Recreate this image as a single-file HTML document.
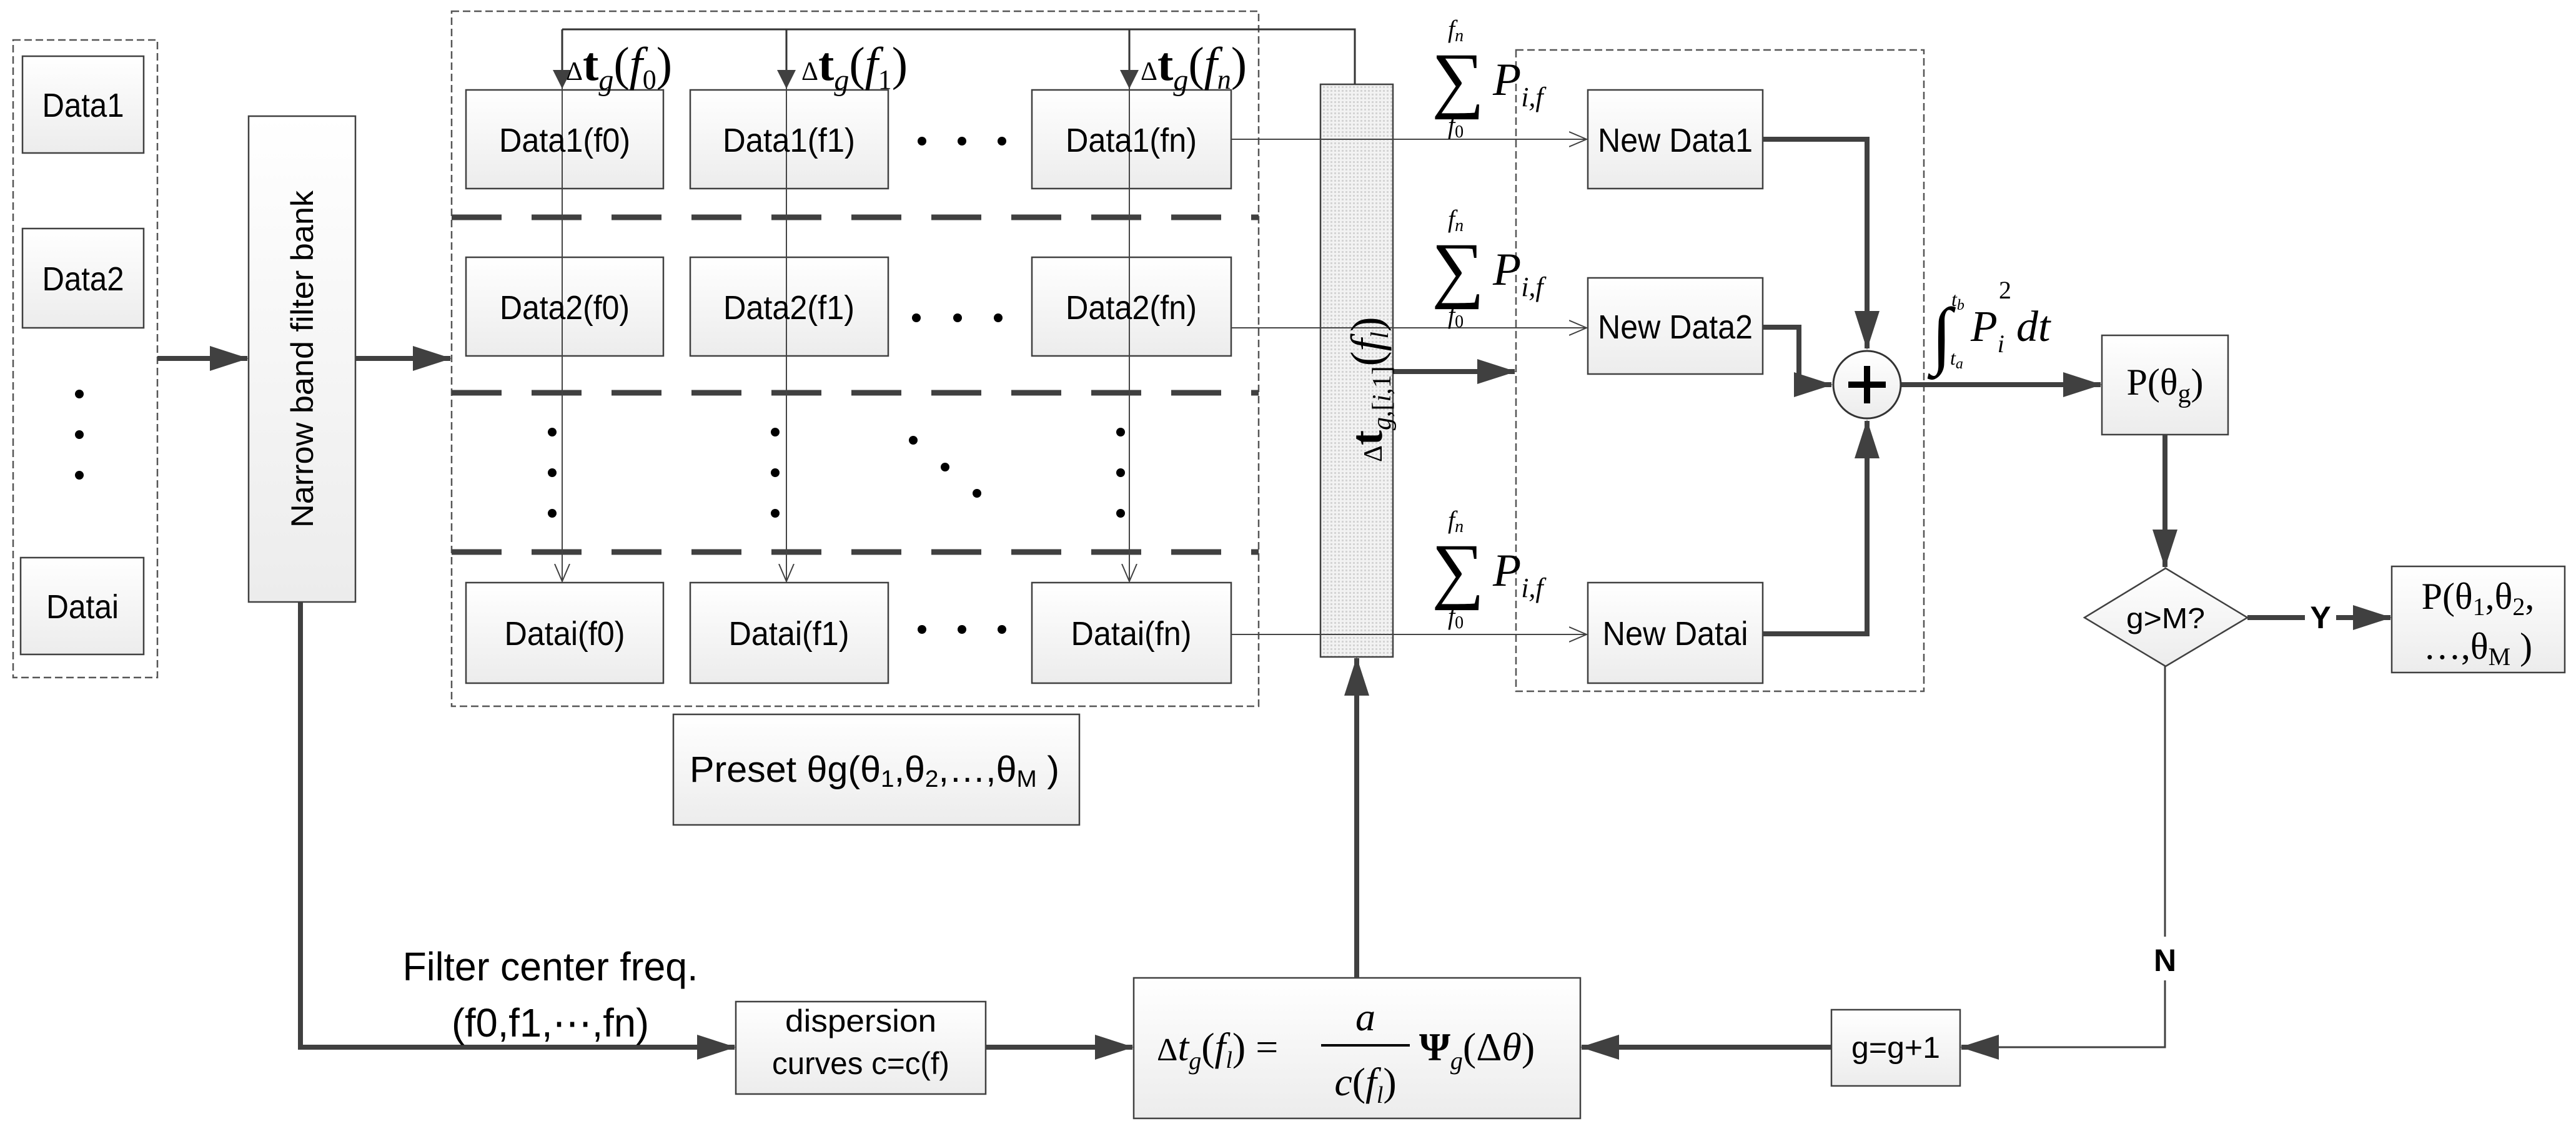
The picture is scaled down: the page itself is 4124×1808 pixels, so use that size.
<!DOCTYPE html>
<html><head><meta charset="utf-8"><style>
html,body{margin:0;padding:0;background:#fff}
svg{display:block}
.b{font-family:"Liberation Sans Narrow","Liberation Sans",sans-serif;font-size:54px;fill:#000}
.m{font-family:"Liberation Serif",serif;fill:#000}
</style></head><body>
<svg width="4124" height="1808" viewBox="0 0 4124 1808" xmlns="http://www.w3.org/2000/svg">
<defs>
<linearGradient id="g" x1="0" y1="0" x2="0" y2="1"><stop offset="0" stop-color="#ffffff"/><stop offset="1" stop-color="#ececec"/></linearGradient>
<pattern id="dots" width="6" height="6" patternUnits="userSpaceOnUse"><rect width="6" height="6" fill="#f2f2f2"/><rect width="3" height="3" fill="#d4d4d4"/></pattern>
<marker id="A" markerUnits="userSpaceOnUse" markerWidth="62" markerHeight="40" refX="60" refY="20" orient="auto"><path d="M0,0 L62,20 L0,40 z" fill="#404040"/></marker>
<marker id="D" markerUnits="userSpaceOnUse" markerWidth="30" markerHeight="60" refX="28" refY="15" orient="auto"><path d="M0,0 L30,15 L0,30 z" fill="#404040"/></marker>
<marker id="O" markerUnits="userSpaceOnUse" markerWidth="30" markerHeight="30" refX="28" refY="15" orient="auto"><path d="M0,3 L28,15 L0,27" fill="none" stroke="#404040" stroke-width="2"/></marker>
</defs>

<g fill="none" stroke="#555" stroke-width="2.5" stroke-dasharray="12,6">
<rect x="21" y="64" width="231" height="1021"/>
<rect x="723" y="18" width="1292" height="1113"/>
<rect x="2427" y="80" width="653" height="1027"/>
</g>

<g fill="url(#g)" stroke="#404040" stroke-width="2.5">
<rect x="36" y="90" width="194" height="155"/>
<rect x="36" y="366" width="194" height="159"/>
<rect x="33" y="893" width="197" height="155"/>
<rect x="398" y="186" width="171" height="778"/>
<rect x="746" y="144" width="316" height="158"/><rect x="1105" y="144" width="317" height="158"/><rect x="1652" y="144" width="319" height="158"/>
<rect x="746" y="412" width="316" height="158"/><rect x="1105" y="412" width="317" height="158"/><rect x="1652" y="412" width="319" height="158"/>
<rect x="746" y="933" width="316" height="161"/><rect x="1105" y="933" width="317" height="161"/><rect x="1652" y="933" width="319" height="161"/>
<rect x="2542" y="144" width="280" height="158"/>
<rect x="2542" y="445" width="280" height="154"/>
<rect x="2542" y="933" width="280" height="161"/>
<rect x="3365" y="537" width="202" height="159"/>
<rect x="3829" y="907" width="277" height="170"/>
<rect x="1078" y="1144" width="650" height="177"/>
<rect x="1178" y="1604" width="400" height="148"/>
<rect x="1815" y="1566" width="715" height="225"/>
<rect x="2932" y="1617" width="206" height="122"/>
<polygon points="3467,910 3598,989 3467,1067 3337,989"/>
</g>
<rect x="2114" y="135" width="116" height="917" fill="url(#dots)" stroke="#404040" stroke-width="2.5"/>

<g stroke="#404040" stroke-width="9" stroke-dasharray="80,48">
<line x1="723" y1="348" x2="2015" y2="348"/>
<line x1="723" y1="629" x2="2015" y2="629"/>
<line x1="723" y1="884" x2="2015" y2="884"/>
</g>

<g stroke="#333" stroke-width="3" fill="none">
<polyline points="900,47 2169,47 2169,135"/>
<line x1="900" y1="47" x2="900" y2="140" marker-end="url(#D)"/>
<line x1="1259" y1="47" x2="1259" y2="140" marker-end="url(#D)"/>
<line x1="1808" y1="47" x2="1808" y2="140" marker-end="url(#D)"/>
</g>
<g stroke="#444" stroke-width="2" fill="none">
<line x1="900" y1="140" x2="900" y2="931" marker-end="url(#O)"/>
<line x1="1259" y1="140" x2="1259" y2="931" marker-end="url(#O)"/>
<line x1="1808" y1="140" x2="1808" y2="931" marker-end="url(#O)"/>
<line x1="1971" y1="223" x2="2540" y2="223" marker-end="url(#O)"/>
<line x1="1971" y1="525" x2="2540" y2="525" marker-end="url(#O)"/>
<line x1="1971" y1="1016" x2="2540" y2="1016" marker-end="url(#O)"/>
</g>

<g stroke="#404040" stroke-width="8" fill="none">
<line x1="252" y1="574" x2="396" y2="574" marker-end="url(#A)"/>
<line x1="569" y1="574" x2="721" y2="574" marker-end="url(#A)"/>
<line x1="2230" y1="595" x2="2425" y2="595" marker-end="url(#A)"/>
<polyline points="2822,223 2989,223 2989,558" marker-end="url(#A)"/>
<polyline points="2822,524 2880,524 2880,616 2932,616" marker-end="url(#A)"/>
<polyline points="2822,1015 2989,1015 2989,674" marker-end="url(#A)"/>
<line x1="3043" y1="616" x2="3363" y2="616" marker-end="url(#A)"/>
<line x1="3466" y1="696" x2="3466" y2="908" marker-end="url(#A)"/>
<line x1="3598" y1="989" x2="3690" y2="989"/>
<line x1="3740" y1="989" x2="3827" y2="989" marker-end="url(#A)"/>
<polyline points="481,964 481,1677 1176,1677" marker-end="url(#A)"/>
<line x1="1578" y1="1677" x2="1813" y2="1677" marker-end="url(#A)"/>
<line x1="2932" y1="1677" x2="2532" y2="1677" marker-end="url(#A)"/>
<line x1="2172" y1="1566" x2="2172" y2="1054" marker-end="url(#A)"/>
</g>
<g stroke="#404040" stroke-width="3" fill="none">
<polyline points="3466,1067 3466,1500"/>
<polyline points="3466,1570 3466,1677 3140,1677"/>
</g>
<line x1="3200" y1="1677" x2="3140" y2="1677" stroke="#404040" stroke-width="8" marker-end="url(#A)"/>

<circle cx="2989" cy="616" r="54" fill="url(#g)" stroke="#333" stroke-width="3"/>
<path d="M2989,586 V646 M2959,616 H3019" stroke="#000" stroke-width="10"/>

<g fill="#000">
<circle cx="127" cy="631" r="7"/><circle cx="127" cy="696" r="7"/><circle cx="127" cy="761" r="7"/>
<circle cx="1476" cy="226" r="7"/><circle cx="1540" cy="226" r="7"/><circle cx="1604" cy="226" r="7"/>
<circle cx="1467" cy="509" r="7"/><circle cx="1533" cy="509" r="7"/><circle cx="1598" cy="509" r="7"/>
<circle cx="1476" cy="1008" r="7"/><circle cx="1540" cy="1008" r="7"/><circle cx="1604" cy="1008" r="7"/>
<circle cx="884" cy="692" r="7"/><circle cx="884" cy="757" r="7"/><circle cx="884" cy="822" r="7"/>
<circle cx="1241" cy="692" r="7"/><circle cx="1241" cy="757" r="7"/><circle cx="1241" cy="822" r="7"/>
<circle cx="1794" cy="692" r="7"/><circle cx="1794" cy="757" r="7"/><circle cx="1794" cy="822" r="7"/>
<circle cx="1462" cy="705" r="7"/><circle cx="1513" cy="748" r="7"/><circle cx="1564" cy="790" r="7"/>
</g>

<g class="b" text-anchor="middle">
<text x="133" y="187" textLength="131" lengthAdjust="spacingAndGlyphs">Data1</text>
<text x="133" y="465" textLength="131" lengthAdjust="spacingAndGlyphs">Data2</text>
<text x="132" y="990" textLength="116" lengthAdjust="spacingAndGlyphs">Datai</text>
<text x="904" y="243" textLength="210" lengthAdjust="spacingAndGlyphs">Data1(f0)</text><text x="1263" y="243" textLength="212" lengthAdjust="spacingAndGlyphs">Data1(f1)</text><text x="1811" y="243" textLength="210" lengthAdjust="spacingAndGlyphs">Data1(fn)</text>
<text x="904" y="511" textLength="208" lengthAdjust="spacingAndGlyphs">Data2(f0)</text><text x="1263" y="511" textLength="210" lengthAdjust="spacingAndGlyphs">Data2(f1)</text><text x="1811" y="511" textLength="210" lengthAdjust="spacingAndGlyphs">Data2(fn)</text>
<text x="904" y="1033" textLength="193" lengthAdjust="spacingAndGlyphs">Datai(f0)</text><text x="1263" y="1033" textLength="193" lengthAdjust="spacingAndGlyphs">Datai(f1)</text><text x="1811" y="1033" textLength="193" lengthAdjust="spacingAndGlyphs">Datai(fn)</text>
<text x="2682" y="243" textLength="248" lengthAdjust="spacingAndGlyphs">New Data1</text>
<text x="2682" y="542" textLength="248" lengthAdjust="spacingAndGlyphs">New Data2</text>
<text x="2682" y="1033" textLength="233" lengthAdjust="spacingAndGlyphs">New Datai</text>
<text x="3467" y="1006" font-size="46" textLength="126" lengthAdjust="spacingAndGlyphs">g&gt;M?</text>
<text x="3035" y="1694" font-size="48" textLength="142" lengthAdjust="spacingAndGlyphs">g=g+1</text>
<text x="1378" y="1652" font-size="50" textLength="242" lengthAdjust="spacingAndGlyphs">dispersion</text>
<text x="1378" y="1720" font-size="50" textLength="284" lengthAdjust="spacingAndGlyphs">curves c=c(f)</text>
<text x="1400" y="1252" font-size="58" textLength="592" lengthAdjust="spacingAndGlyphs">Preset θg(θ<tspan font-size="38" dy="8">1</tspan><tspan dy="-8">,θ</tspan><tspan font-size="38" dy="8">2</tspan><tspan dy="-8">,…,θ</tspan><tspan font-size="38" dy="8">M</tspan><tspan dy="-8"> )</tspan></text>
<text x="881" y="1570" font-size="64" textLength="473" lengthAdjust="spacingAndGlyphs">Filter center freq.</text>
<text x="881" y="1660" font-size="64" textLength="316" lengthAdjust="spacingAndGlyphs">(f0,f1,⋯,fn)</text>
<text x="3466" y="1555" font-size="50" font-weight="bold" font-family="Liberation Sans,sans-serif">N</text>
<text x="3715" y="1006" font-size="50" font-weight="bold" font-family="Liberation Sans,sans-serif">Y</text>
<text x="484" y="575" font-family="Liberation Sans,sans-serif" font-size="50" transform="rotate(-90 484 575)" dy="17" textLength="540" lengthAdjust="spacingAndGlyphs">Narrow band filter bank</text>
</g>

<g class="m">
<text x="3466" y="632" font-size="60" text-anchor="middle">P(θ<tspan font-size="42" dy="12">g</tspan><tspan dy="-12">)</tspan></text>
<text x="3967" y="975" font-size="60" text-anchor="middle">P(θ<tspan font-size="40" dy="10">1</tspan><tspan dy="-10">,θ</tspan><tspan font-size="40" dy="10">2</tspan><tspan dy="-10">,</tspan></text>
<text x="3967" y="1055" font-size="60" text-anchor="middle">…,θ<tspan font-size="40" dy="10">M</tspan><tspan dy="-10"> )</tspan></text>
<g font-size="76">
<text x="906" y="128"><tspan font-size="42">Δ</tspan><tspan font-weight="bold">t</tspan><tspan font-style="italic" font-size="48" dy="16">g</tspan><tspan dy="-16">(</tspan><tspan font-style="italic">f</tspan><tspan font-size="44" dy="14">0</tspan><tspan dy="-14">)</tspan></text>
<text x="1283" y="128"><tspan font-size="42">Δ</tspan><tspan font-weight="bold">t</tspan><tspan font-style="italic" font-size="48" dy="16">g</tspan><tspan dy="-16">(</tspan><tspan font-style="italic">f</tspan><tspan font-size="44" dy="14">1</tspan><tspan dy="-14">)</tspan></text>
<text x="1826" y="128"><tspan font-size="42">Δ</tspan><tspan font-weight="bold">t</tspan><tspan font-style="italic" font-size="48" dy="16">g</tspan><tspan dy="-16">(</tspan><tspan font-style="italic">f</tspan><tspan font-size="44" dy="14" font-style="italic">n</tspan><tspan dy="-14">)</tspan></text>
</g>
<text x="2190" y="740" font-size="72" transform="rotate(-90 2190 740)" dy="22"><tspan font-size="42">Δ</tspan><tspan font-weight="bold">t</tspan><tspan font-style="italic" font-size="42" dy="14">g</tspan><tspan font-size="42">,[</tspan><tspan font-size="42" font-style="italic">i</tspan><tspan font-size="42">,1]</tspan><tspan dy="-14">(</tspan><tspan font-style="italic">f</tspan><tspan font-style="italic" font-size="40" dy="10">l</tspan><tspan dy="-10">)</tspan></text>
<g id="s1">
<text x="2292" y="166" font-size="118">∑</text>
<text x="2318" y="60" font-size="40" font-style="italic">f<tspan font-size="28" dy="6">n</tspan></text>
<text x="2318" y="214" font-size="40" font-style="italic">f<tspan font-size="28" dy="6" font-style="normal">0</tspan></text>
<text x="2390" y="152" font-size="74" font-style="italic">P<tspan font-size="44" dy="18">i,f</tspan></text>
</g>
<use href="#s1" y="304"/>
<use href="#s1" y="786"/>
<text x="3092" y="576" font-size="120" font-style="italic">∫</text>
<text x="3124" y="490" font-size="32" font-style="italic">t<tspan font-size="24" dy="6">b</tspan></text>
<text x="3122" y="584" font-size="32" font-style="italic">t<tspan font-size="24" dy="6">a</tspan></text>
<text x="3155" y="546" font-size="70" font-style="italic">P<tspan font-size="40" dy="18">i</tspan></text>
<text x="3200" y="478" font-size="40">2</text>
<text x="3228" y="546" font-size="70" font-style="italic">dt</text>
<text x="1852" y="1698" font-size="64"><tspan font-size="52">Δ</tspan><tspan font-style="italic">t</tspan><tspan font-style="italic" font-size="40" dy="14">g</tspan><tspan dy="-14">(</tspan><tspan font-style="italic">f</tspan><tspan font-style="italic" font-size="38" dy="12">l</tspan><tspan dy="-12">) =</tspan></text>
<line x1="2115" y1="1674" x2="2257" y2="1674" stroke="#000" stroke-width="4"/>
<text x="2186" y="1650" font-size="64" font-style="italic" text-anchor="middle">a</text>
<text x="2186" y="1754" font-size="64" text-anchor="middle"><tspan font-style="italic">c</tspan>(<tspan font-style="italic">f</tspan><tspan font-style="italic" font-size="38" dy="12">l</tspan><tspan dy="-12">)</tspan></text>
<text x="2272" y="1698" font-size="64"><tspan font-weight="bold">Ψ</tspan><tspan font-style="italic" font-size="40" dy="14">g</tspan><tspan dy="-14">(Δ</tspan><tspan font-style="italic">θ</tspan>)</text>
</g>
</svg>
</body></html>
